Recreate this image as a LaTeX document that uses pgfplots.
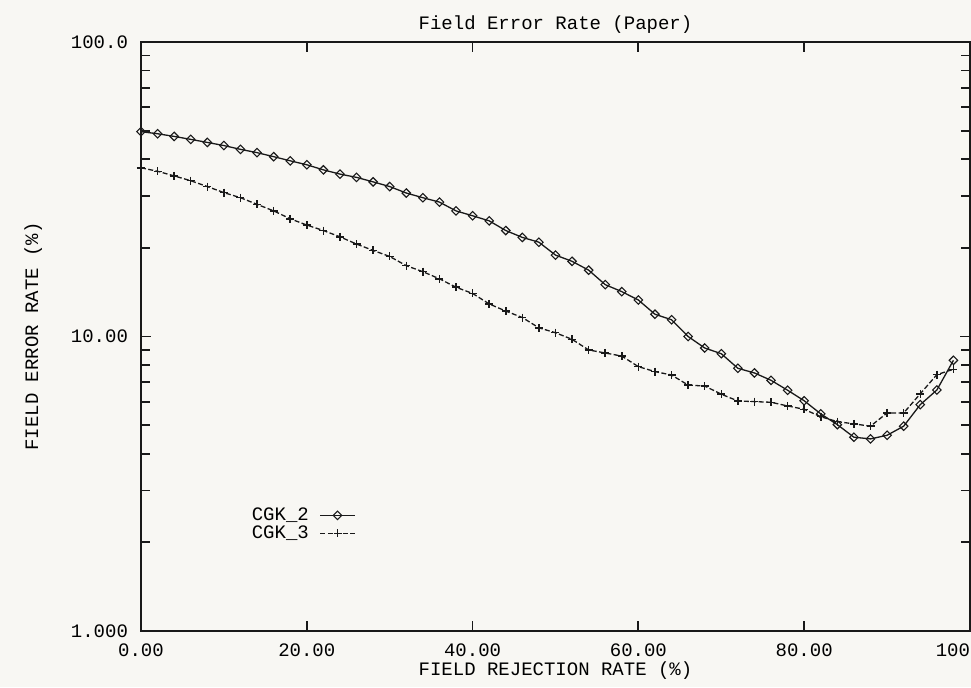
\documentclass[border=0pt]{standalone}
\usepackage{pgfplots}
\pgfplotsset{compat=1.18}
\usepackage{pgfplotstable}
\usepackage{fontspec}
\setmainfont{Liberation Mono}
\usetikzlibrary{backgrounds}
\definecolor{bgcol}{RGB}{248,247,243}
\definecolor{ink}{RGB}{25,25,25}

\pgfplotstableread{
x y
0 49.6
2 48.8
4 47.8
6 46.7
8 45.6
10 44.5
12 43.2
14 42.1
16 40.8
18 39.5
20 38.3
22 36.8
24 35.6
26 34.7
28 33.5
30 32.3
32 30.7
34 29.6
36 28.6
38 26.7
40 25.7
42 24.7
44 22.9
46 21.7
48 20.9
50 18.9
52 18.0
54 16.8
56 15.0
58 14.2
60 13.3
62 11.9
64 11.4
66 10.0
68 9.14
70 8.74
72 7.80
74 7.52
76 7.10
78 6.57
80 6.05
82 5.46
84 5.02
86 4.55
88 4.49
90 4.62
92 4.96
94 5.87
96 6.58
98 8.30
}\cgktwo

\pgfplotstableread{
x y
0 37.4
2 36.4
4 35.1
6 33.8
8 32.3
10 30.8
12 29.6
14 28.1
16 26.7
18 25.1
20 23.9
22 22.9
24 21.8
26 20.6
28 19.6
30 18.7
32 17.4
34 16.6
36 15.7
38 14.7
40 14.0
42 12.9
44 12.2
46 11.6
48 10.7
50 10.3
52 9.78
54 9.00
56 8.79
58 8.58
60 7.90
62 7.60
64 7.40
66 6.84
68 6.79
70 6.37
72 6.04
74 6.01
76 5.98
78 5.81
80 5.66
82 5.34
84 5.14
86 5.05
88 4.96
90 5.50
92 5.50
94 6.39
96 7.42
98 7.74
}\cgkthree

\begin{document}
\begin{tikzpicture}[font=\fontsize{9.5}{11}\selectfont]
\begin{axis}[
  scale only axis,
  width=414.5pt, height=294.5pt,
  xmin=0, xmax=100,
  ymode=log, ymin=1, ymax=100,
  axis line style={line width=1.2pt, ink},
  tick style={line width=0.9pt, ink},
  tick align=inside,
  tick pos=both,
  major tick length=5pt,
  minor tick length=4.5pt,
  xtick={0,20,40,60,80,100},
  xticklabels={0.00,20.00,40.00,60.00,80.00,100.00},
  minor x tick num=0,
  ytick={1,10,100},
  yticklabels={1.000,10.00,100.0},
  xticklabel style={yshift=-3pt},
  yticklabel style={xshift=-3pt},
  title={Field Error Rate (Paper)},
  title style={at={(axis description cs:0.5,1)}, anchor=center, yshift=2.5pt},
  xlabel={FIELD REJECTION RATE (\%)},
  xlabel style={at={(axis description cs:0.5,-0.068)}, anchor=center},
  ylabel={FIELD ERROR RATE (\%)},
  ylabel style={at={(axis description cs:-0.130,0.5)}, anchor=center},
  legend plot pos=right,
  legend cell align=left,
  legend style={draw=none, fill=none, inner sep=0pt, column sep=5pt,
    at={(axis description cs:0.132,0.181)}, anchor=west,
    nodes={inner sep=0.5pt, text height=6.5pt, text depth=1.5pt}},
]
\addplot[ink, line width=0.65pt, mark=square, mark size=1.5pt,
  mark options={solid, rotate=45, line width=0.55pt, fill=none}]
  table[x=x, y=y] {\cgktwo};
\addlegendentry{CGK\_2}
\addplot[ink, line width=0.65pt, dash pattern=on 2.5pt off 1.2pt, mark=+, mark size=2pt,
  mark options={solid, line width=0.75pt}]
  table[x=x, y=y] {\cgkthree};
\addlegendentry{CGK\_3}
\end{axis}
\pgfresetboundingbox
\path[use as bounding box] ([xshift=-70.5pt, yshift=-28pt]current axis.south west)
  rectangle ([xshift=0.5pt, yshift=21pt]current axis.north east);
\begin{pgfonlayer}{background}
\fill[bgcol] ([xshift=-70.5pt, yshift=-28pt]current axis.south west)
  rectangle ([xshift=0.5pt, yshift=21pt]current axis.north east);
\end{pgfonlayer}
\end{tikzpicture}
\end{document}
